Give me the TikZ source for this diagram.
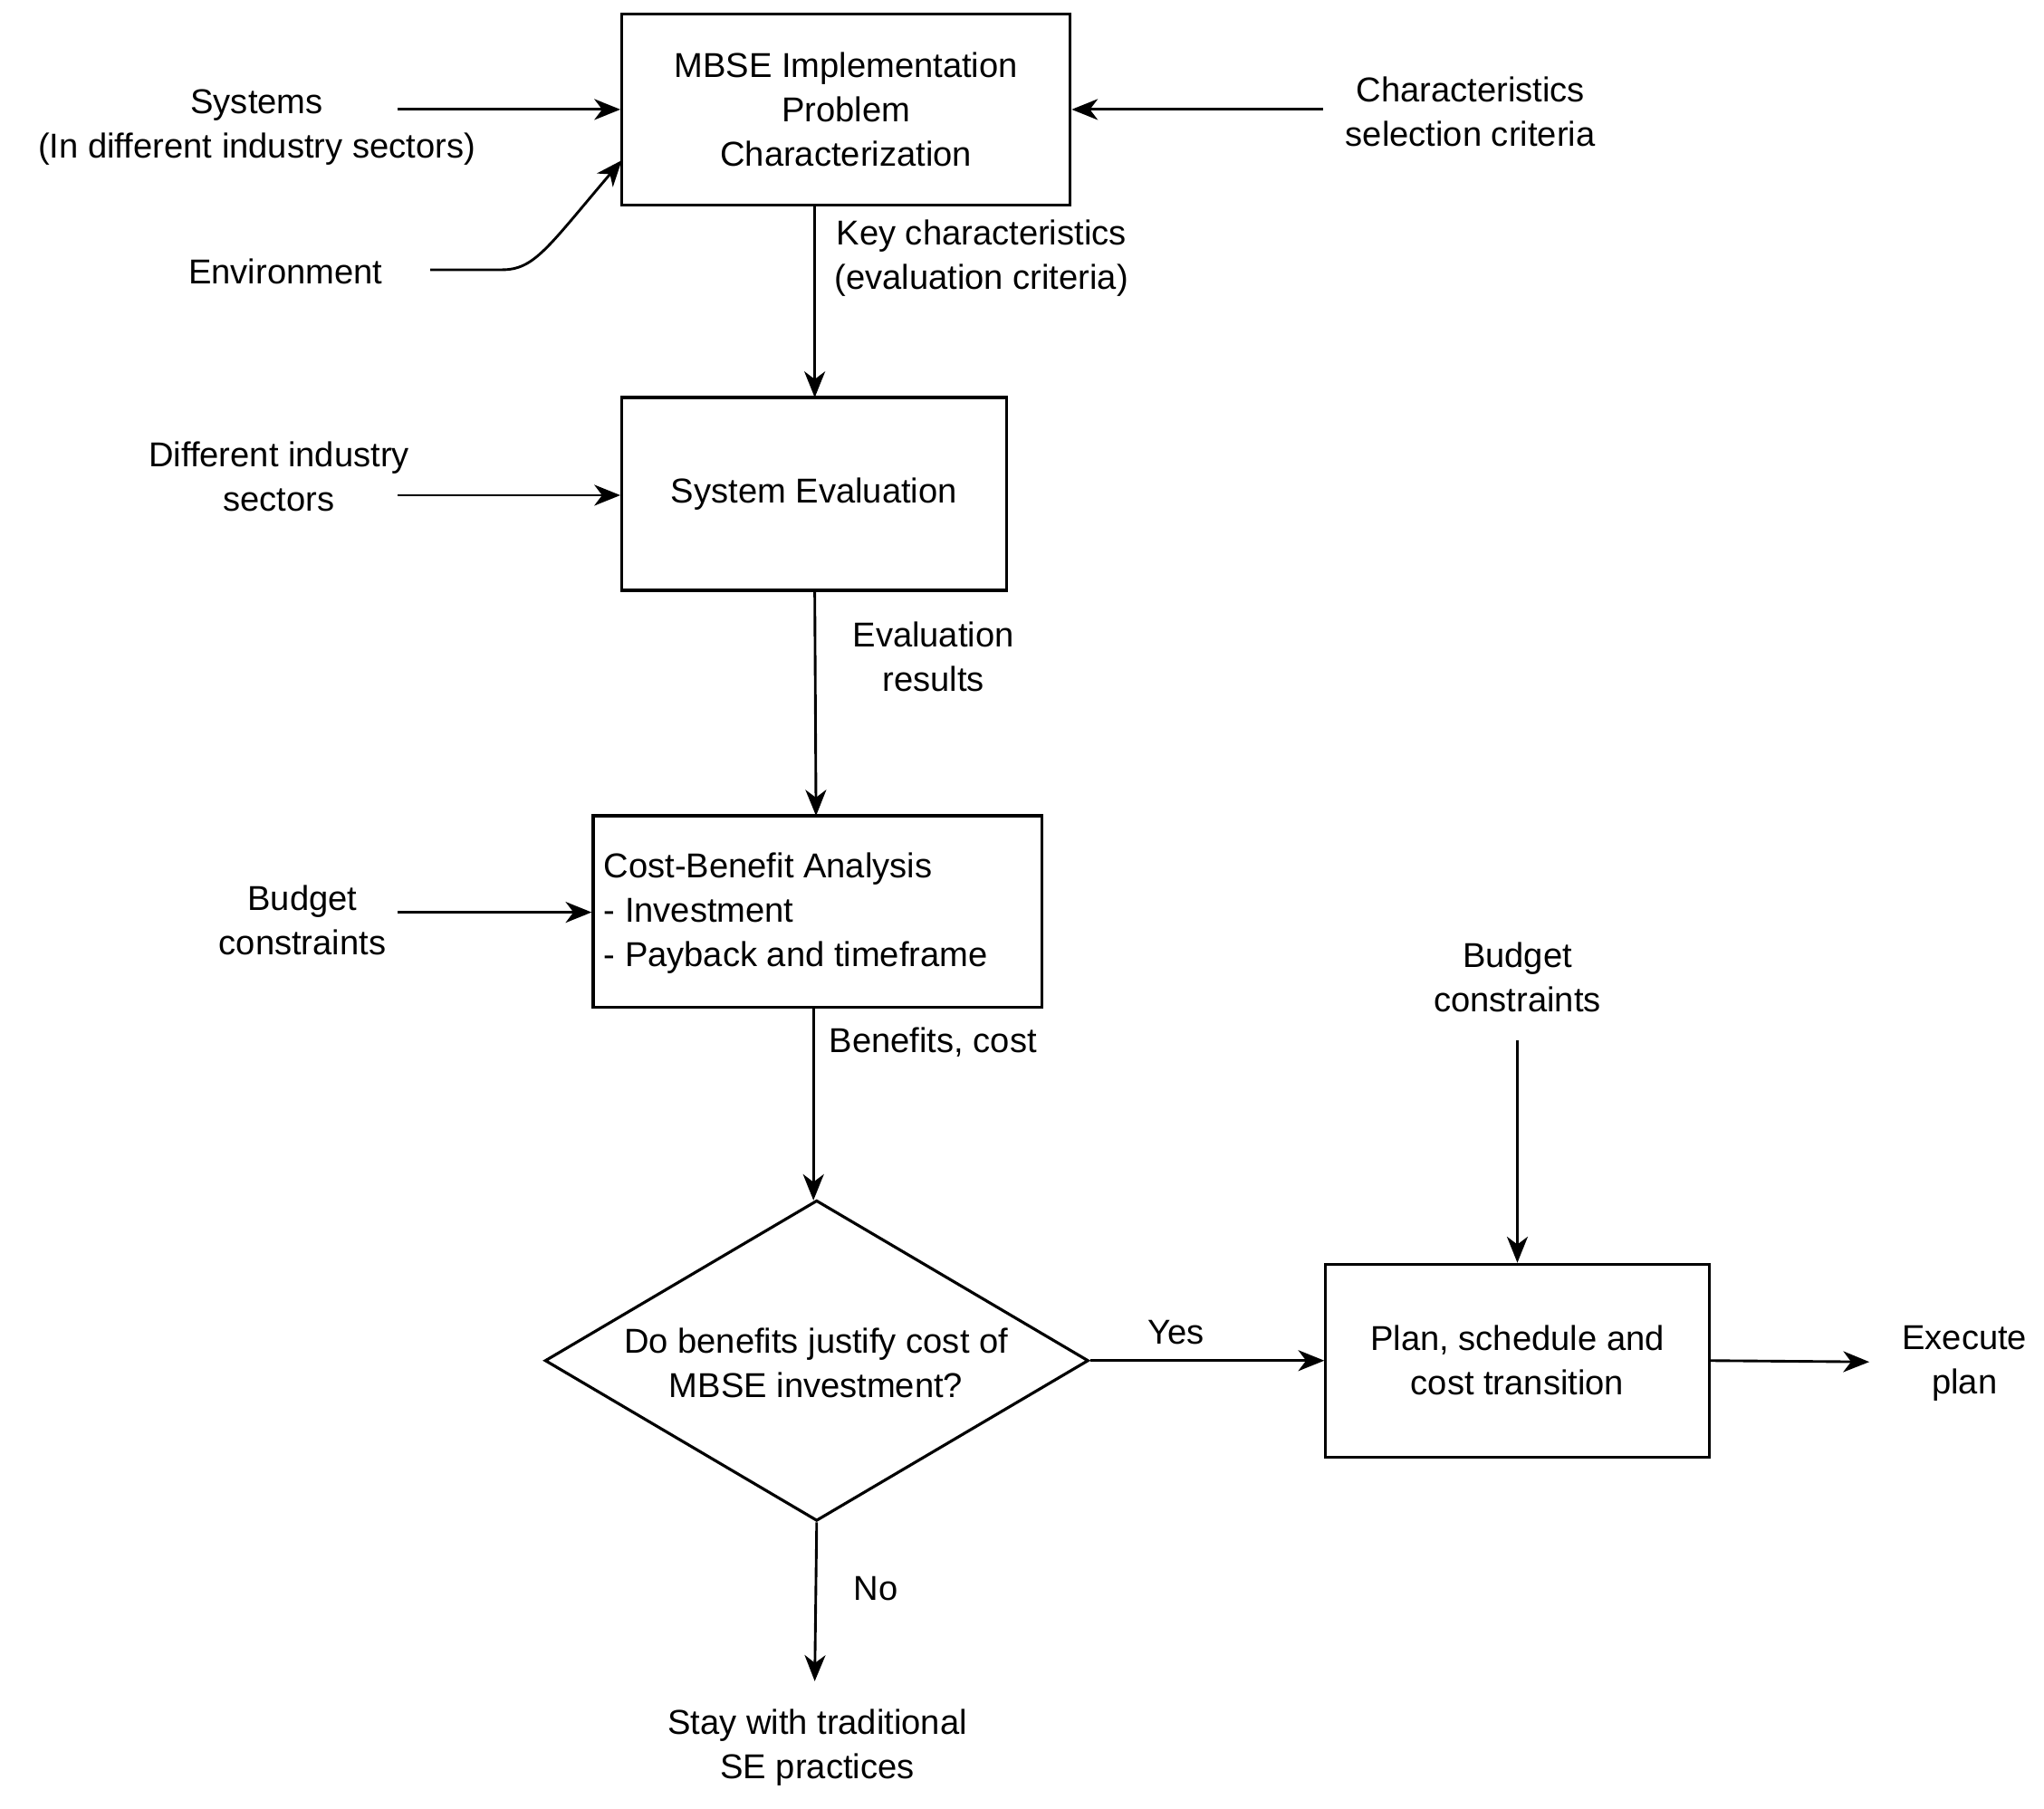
\documentclass[tikz,border=0pt]{standalone}
\usepackage{fontspec}
\setmainfont{Liberation Sans}
\usetikzlibrary{arrows.meta,shapes.geometric}
\begin{document}
\begin{tikzpicture}[x=1pt,y=-1pt,
  every node/.style={font=\fontsize{26.5}{34}\selectfont},
  box/.style={draw,line width=2.2pt,inner sep=0,align=center},
  lbl/.style={align=center,inner sep=0},
  arr/.style={line width=2pt,-{Stealth[length=20pt,width=16pt,inset=6pt]}}]
\useasboundingbox (0,0) rectangle (1568,1388);
\node[box,minimum width=344,minimum height=147] (mbse) at (649,84) {MBSE Implementation\\Problem\\Characterization};
\node[lbl] (sys) at (197,98) {Systems\\(In different industry sectors)};
\coordinate (sysS) at (305,84);
\node[lbl] (env) at (219,208) {Environment};
\coordinate (envS) at (330,207);
\node[lbl] (chr) at (1128,86) {Characteristics\\selection criteria};
\coordinate (chrS) at (1015,84);
\node[lbl,anchor=west] (key) at (640,198) {Key characteristics\\(evaluation criteria)};
\node[box,minimum width=295,minimum height=148] (se) at (624.5,379) {System Evaluation};
\node[lbl] (dis) at (214,366) {Different industry\\sectors};
\coordinate (disS) at (305,380);
\node[lbl] (evr) at (716,504) {Evaluation\\results};
\node[box,minimum width=344,minimum height=147] (cba) at (627,699.5) {};
\node[lbl,align=left,anchor=west] at (463,701) {Cost-Benefit Analysis\\- Investment\\- Payback and timeframe};
\node[lbl] (bc1) at (232,706) {Budget\\constraints};
\coordinate (bc1S) at (305,700);
\node[lbl,anchor=west] (bcost) at (636,800) {Benefits, cost};
\node[draw,line width=2.2pt,diamond,aspect=1.69,minimum width=417,minimum height=246,inner sep=0] (dec) at (626.5,1044) {};
\node[lbl] at (626,1046) {Do benefits justify cost of\\MBSE investment?};
\node[lbl] (yes) at (902,1022) {Yes};
\node[box,minimum width=294,minimum height=148] (plan) at (1164,1044) {Plan, schedule and\\cost transition};
\node[lbl] (bc2) at (1164,750) {Budget\\constraints};
\coordinate (bc2S) at (1164,798);
\coordinate (exE) at (1434,1045);
\node[lbl] (ex) at (1507,1046) {Execute\\plan};
\node[lbl] (no) at (672,1219) {No};
\coordinate (noE) at (625,1290);
\node[lbl] (stay) at (627,1341) {Stay with traditional\\SE practices};
\draw[arr] (sysS) -- (sysS -| mbse.west);
\draw[arr] (envS) -- (385,207) .. controls (410,207) and (420,190) .. (477,123);
\draw[arr] (chrS) -- (chrS -| mbse.east);
\draw[arr] (625,157) -- (625,305);
\draw[arr] (disS) -- (disS -| se.west);
\draw[arr] (625,453) -- (626,626);
\draw[arr] (bc1S) -- (bc1S -| cba.west);
\draw[arr] (624,773) -- (624,921);
\draw[arr] (dec.east) -- (dec.east -| plan.west);
\draw[arr] (bc2S) -- (plan.north);
\draw[arr] (plan.east) -- (exE);
\draw[arr] (dec.south) -- (noE);
\end{tikzpicture}
\end{document}
